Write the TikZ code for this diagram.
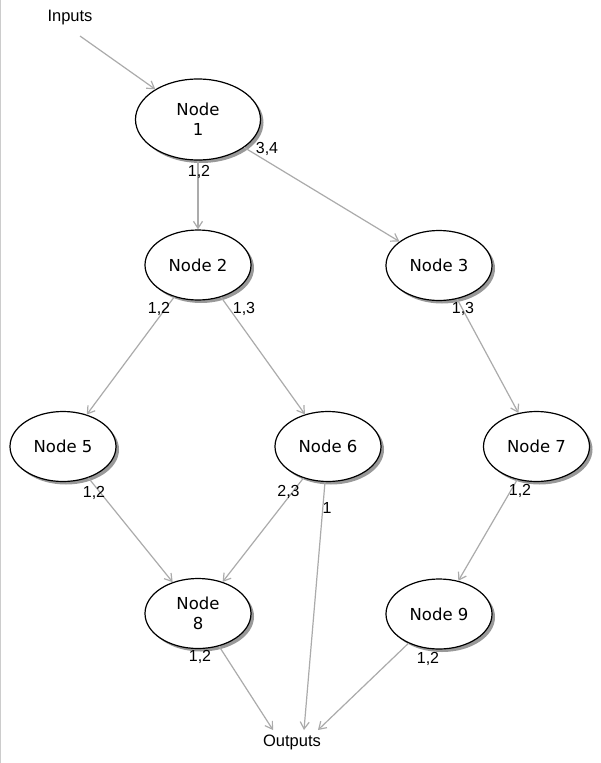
\documentclass[tikz,border=0pt]{standalone}
\usepackage{fontspec}
\setmainfont{Liberation Sans}
\newfontfamily\nodefont{DejaVu Sans}
\usetikzlibrary{arrows.meta,shadows,shapes.geometric}
\begin{document}
\begin{tikzpicture}[x=1pt,y=-1pt,
  nodebox/.style={ellipse, draw=black, line width=1.2pt, fill=white, inner sep=0pt,
    minimum width=106pt, minimum height=70pt, align=center,
    font=\nodefont\fontsize{16.5}{20}\selectfont,
    drop shadow={shadow xshift=3pt, shadow yshift=-3pt, fill=black!40, opacity=1}},
  link/.style={draw=black!33, line width=1.2pt, -{Straight Barb[length=7pt,width=9pt,line width=1.2pt]}},
  lbl/.style={inner sep=0pt, font=\fontsize{16}{18}\selectfont},
  io/.style={inner sep=0pt, font=\fontsize{16.5}{20}\selectfont}]
\useasboundingbox[fill=white] (0,0) rectangle (600,763);
\draw[black!20, line width=1pt] (0.5,0) -- (0.5,763);

\node[nodebox, minimum width=125pt, minimum height=81pt] (n1) at (198,119.5) {Node\\1};
\node[nodebox] (n2) at (198,265) {Node 2};
\node[nodebox] (n3) at (439,265.5) {Node 3};
\node[nodebox] (n5) at (63,446.5) {Node 5};
\node[nodebox] (n6) at (328,446.5) {Node 6};
\node[nodebox] (n7) at (536.5,446.5) {Node 7};
\node[nodebox] (n8) at (198,613.5) {Node\\8};
\node[nodebox] (n9) at (439,614) {Node 9};

\node[io] (in) at (70,18) {Inputs};
\node[io] (out) at (292,742) {Outputs};
\coordinate (ins) at (80,36);
\coordinate (o8) at (273,730);
\coordinate (o6) at (304,730);
\coordinate (o9) at (318,730);

\draw[link] (ins) -- (n1);
\draw[link] (n1) -- (n2);
\draw[link] (n1) -- (n3);
\draw[link] (n2) -- (n5);
\draw[link] (n2) -- (n6);
\draw[link] (n3) -- (n7);
\draw[link] (n5) -- (n8);
\draw[link] (n6) -- (n8);
\draw[link] (n6) -- (o6);
\draw[link] (n7) -- (n9);
\draw[link] (n8) -- (o8);
\draw[link] (n9) -- (o9);

\node[lbl] (l1a) at (199,172) {1,2};
\node[lbl] (l1b) at (267,149) {3,4};
\node[lbl] (l2a) at (159,309) {1,2};
\node[lbl] (l2b) at (244,309) {1,3};
\node[lbl] (l3) at (463,308.5) {1,3};
\node[lbl] (l5) at (94,492.5) {1,2};
\node[lbl] (l6a) at (288.5,492) {2,3};
\node[lbl] (l6b) at (327,508) {1};
\node[lbl] (l7) at (520,491) {1,2};
\node[lbl] (l8) at (200,657) {1,2};
\node[lbl] (l9) at (428,659) {1,2};
\end{tikzpicture}
\end{document}
